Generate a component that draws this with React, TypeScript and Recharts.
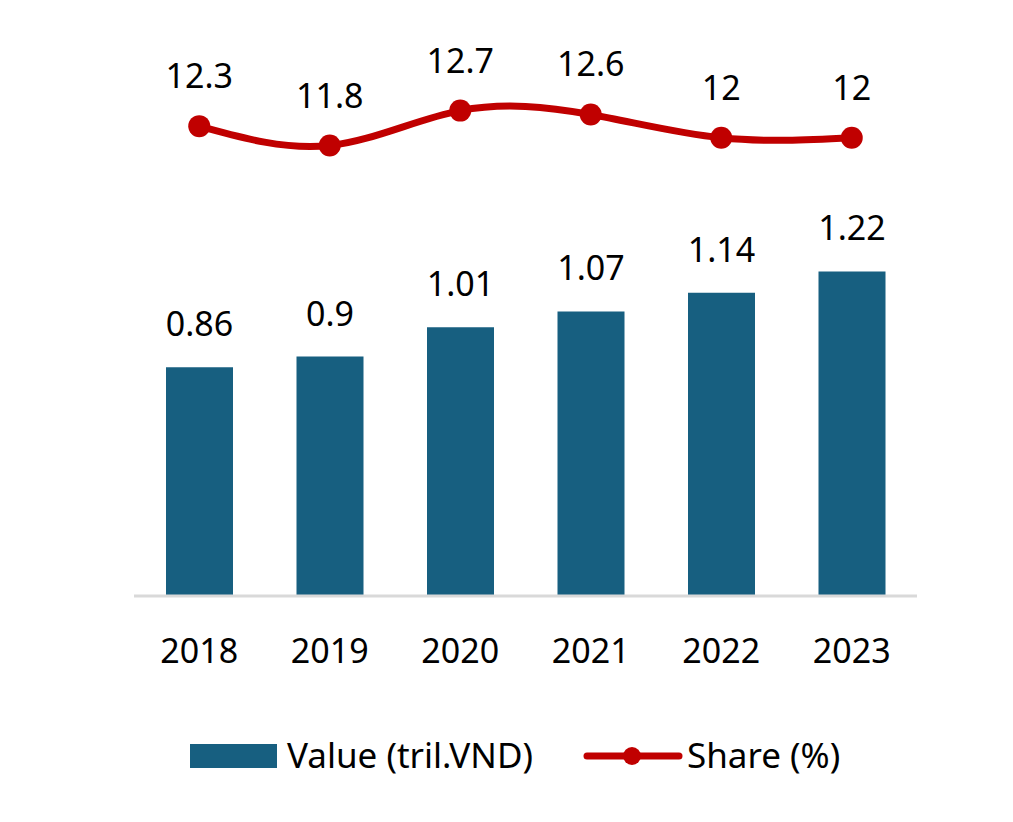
import React from 'react'
import {
  ComposedChart,
  Bar,
  Line,
  XAxis,
  YAxis,
  LabelList,
} from 'recharts'

const years = ['2018', '2019', '2020', '2021', '2022', '2023']
const values = [0.86, 0.9, 1.01, 1.07, 1.14, 1.22]
const shares = [12.3, 11.8, 12.7, 12.6, 12, 12]

const BAR_COLOR = '#175f80'
const LINE_COLOR = '#c00000'
const FONT = '"Noto Sans", "Open Sans", sans-serif'

const chartData = years.map((y, i) => ({
  year: y,
  value: values[i],
  share: shares[i],
}))

const legendText: React.CSSProperties = {
  position: 'absolute',
  top: 0,
  lineHeight: '44px',
  fontFamily: FONT,
  fontSize: 35,
  color: '#000',
  whiteSpace: 'nowrap',
}

const ChartLegend = () => (
  <div style={{ position: 'absolute', left: 0, top: 733, width: 1013, height: 44 }}>
    <div style={{ position: 'absolute', left: 190, top: 11, width: 87, height: 24, background: BAR_COLOR }} />
    <span style={{ ...legendText, left: 287 }}>Value (tril.VND)</span>
    <svg width={100} height={24} style={{ position: 'absolute', left: 583, top: 11 }}>
      <line x1={4} y1={12} x2={96} y2={12} stroke={LINE_COLOR} strokeWidth={7} strokeLinecap="round" />
      <circle cx={49} cy={12} r={9} fill={LINE_COLOR} />
    </svg>
    <span style={{ ...legendText, left: 687 }}>Share (%)</span>
  </div>
)

export default function App() {
  return (
    <div style={{ position: 'absolute', left: 0, top: 0, width: 1013, height: 822, background: '#fff' }}>
      <ComposedChart
        width={1013}
        height={822}
        data={chartData}
        margin={{ top: 64, right: 96, left: 134, bottom: 196 }}
      >
        <XAxis
          dataKey="year"
          axisLine={{ stroke: '#d9d9d9', strokeWidth: 3 }}
          tickLine={false}
          tick={{ fill: '#000', fontSize: 34, fontFamily: FONT }}
          tickMargin={37}
        />
        <YAxis yAxisId="bar" hide domain={[0, 2]} />
        <YAxis yAxisId="line" hide domain={[0.2, 13.9]} orientation="right" />
        <Bar yAxisId="bar" dataKey="value" fill={BAR_COLOR} barSize={67} isAnimationActive={false}>
          <LabelList
            dataKey="value"
            position="top"
            offset={31}
            style={{ fill: '#000', fontSize: 34, fontFamily: FONT }}
          />
        </Bar>
        <Line
          yAxisId="line"
          type="natural"
          dataKey="share"
          stroke={LINE_COLOR}
          strokeWidth={7}
          dot={{ r: 11, fill: LINE_COLOR, stroke: LINE_COLOR, strokeWidth: 0 }}
          isAnimationActive={false}
        >
          <LabelList
            dataKey="share"
            position="top"
            offset={38}
            style={{ fill: '#000', fontSize: 34, fontFamily: FONT }}
          />
        </Line>
      </ComposedChart>
      <ChartLegend />
    </div>
  )
}
